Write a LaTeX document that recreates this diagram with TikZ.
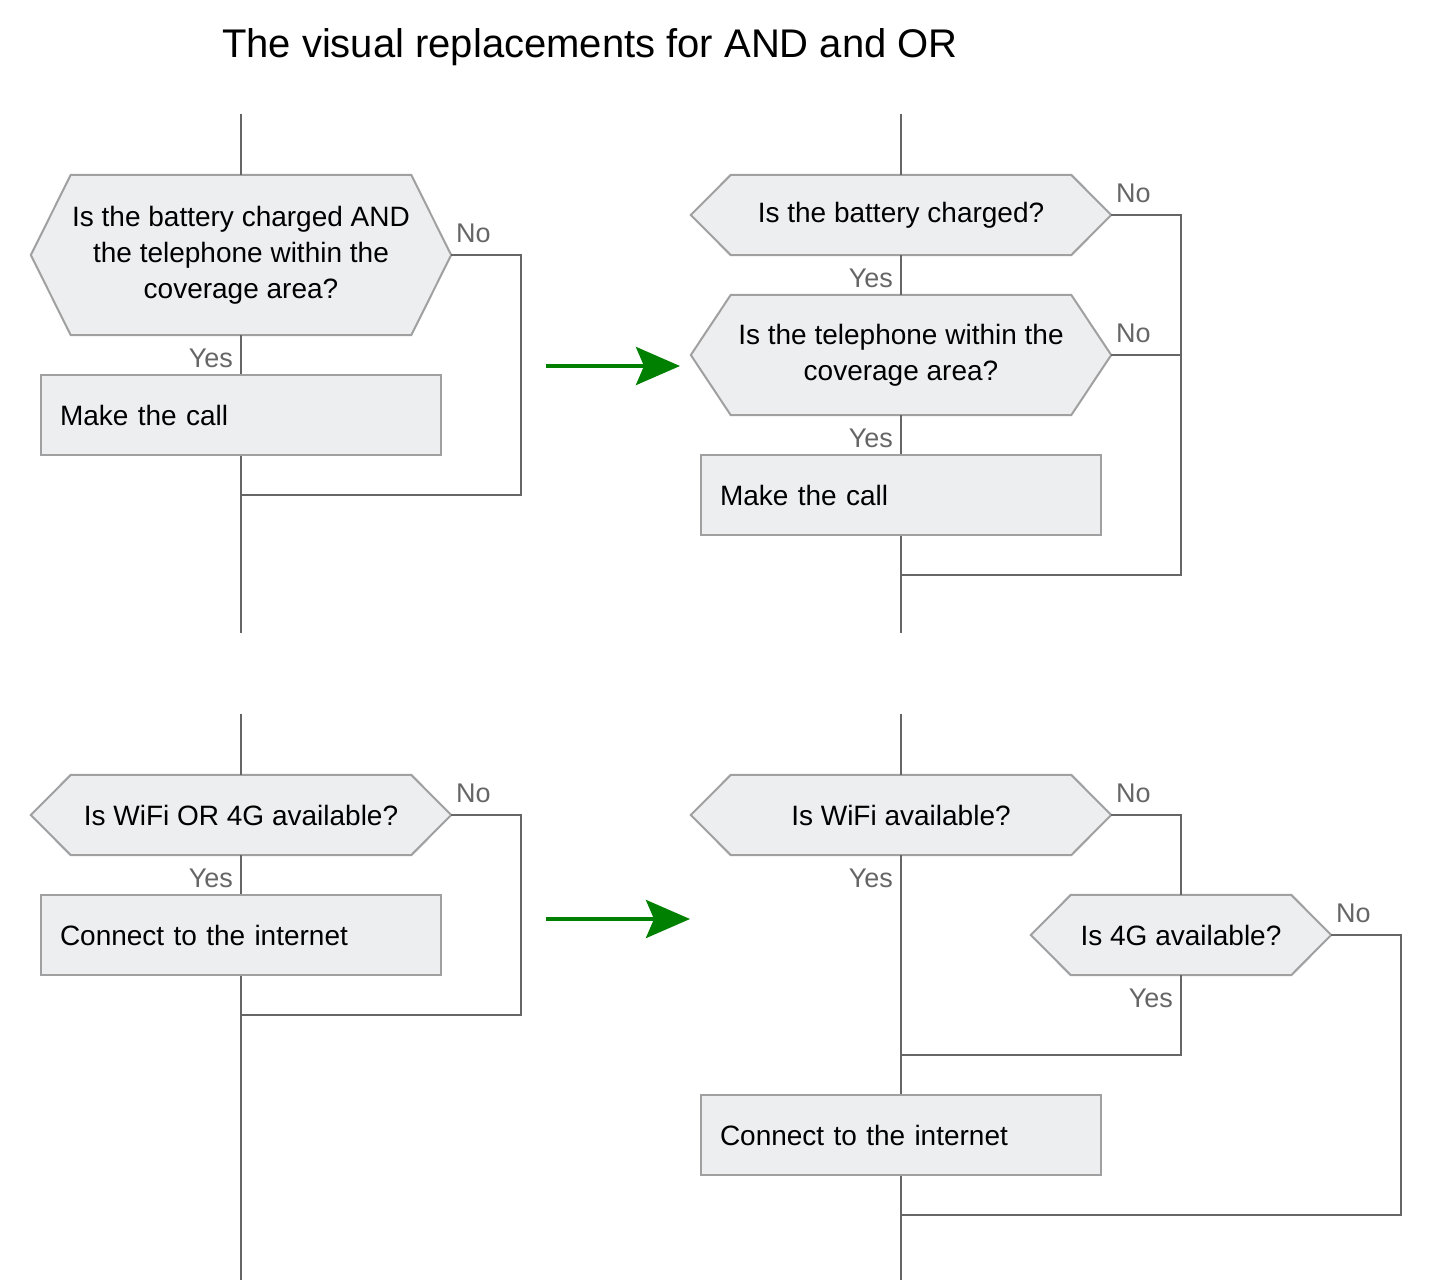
\documentclass[tikz,border=0pt]{standalone}
\usepackage{fontspec}
\setmainfont{Liberation Sans}
\usetikzlibrary{arrows.meta}
\definecolor{shapefill}{RGB}{237,238,240}
\definecolor{shapeline}{RGB}{160,160,160}
\definecolor{connline}{RGB}{102,102,102}
\definecolor{labelgray}{RGB}{102,102,102}
\definecolor{arrowgreen}{RGB}{0,128,0}
\pgfdeclarelayer{background}
\pgfsetlayers{background,main}
\tikzset{
  bodyfont/.style={font=\fontsize{28}{36}\selectfont},
  decision/.style={bodyfont, align=center, inner sep=0pt, text=black},
  procbox/.style={bodyfont, draw=shapeline, fill=shapefill, line width=2pt,
    minimum width=400pt, minimum height=80pt, text width=362pt, inner xsep=19pt,
    inner ysep=0pt, align=left, text=black},
  hexshape/.style={draw=shapeline, fill=shapefill, line width=2pt, line join=miter},
  conn/.style={draw=connline, line width=2pt},
  lbl/.style={font=\fontsize{27}{32}\selectfont, text=labelgray, inner sep=0pt},
  bigarrow/.style={draw=arrowgreen, line width=4pt,
    -{Stealth[length=44pt, width=38pt, inset=8pt, fill=arrowgreen]}},
}
\newcommand{\hexpath}[1]{%
  \path[hexshape] (#1.west) -- ([xshift=40pt]#1.north west) -- ([xshift=-40pt]#1.north east)
    -- (#1.east) -- ([xshift=-40pt]#1.south east) -- ([xshift=40pt]#1.south west) -- cycle;}
\begin{document}
\begin{tikzpicture}[x=1pt, y=-1pt]
\useasboundingbox (0,0) rectangle (1440,1280);

% title
\node[font=\fontsize{40}{48}\selectfont, inner sep=0pt] (title) at (590,47) {The visual replacements for AND and OR};

% ---------- top left ----------
\node[decision, minimum width=420pt, minimum height=160pt] (d1) at (241,255)
  {Is the battery charged AND\\the telephone within the\\coverage area?};
\node[procbox] (p1) at (241,415) {Make the call};
\coordinate (t1) at (241,114);
\coordinate (j1) at (241,495);
\coordinate (b1) at (241,633);
\draw[conn] (t1) -- (d1.north);
\draw[conn] (d1.south) -- (p1.north);
\draw[conn] (p1.south) -- (b1);
\draw[conn] (d1.east) -- ++(70,0) |- (j1);
\node[lbl, anchor=base west] (n1) at (456,242) {No};
\node[lbl, anchor=base east] (y1) at (233,367) {Yes};

% ---------- top right ----------
\node[decision, minimum width=420pt, minimum height=80pt] (d2) at (901,215)
  {Is the battery charged?};
\node[decision, minimum width=420pt, minimum height=120pt] (d3) at (901,355)
  {Is the telephone within the\\coverage area?};
\node[procbox] (p2) at (901,495) {Make the call};
\coordinate (t2) at (901,114);
\coordinate (j2) at (901,575);
\coordinate (b2) at (901,633);
\draw[conn] (t2) -- (d2.north);
\draw[conn] (d2.south) -- (d3.north);
\draw[conn] (d3.south) -- (p2.north);
\draw[conn] (p2.south) -- (b2);
\draw[conn] (d2.east) -- ++(70,0) |- (j2);
\draw[conn] (d3.east) -- ++(70,0);
\node[lbl, anchor=base west] (n2) at (1116,202) {No};
\node[lbl, anchor=base west] (n3) at (1116,342) {No};
\node[lbl, anchor=base east] (y2) at (893,287) {Yes};
\node[lbl, anchor=base east] (y3) at (893,447) {Yes};

% ---------- green arrows ----------
\coordinate (a1s) at (546,366);
\coordinate (a1e) at (680,366);
\coordinate (a2s) at (546,919);
\coordinate (a2e) at (690,919);
\draw[bigarrow] (a1s) -- (a1e);
\draw[bigarrow] (a2s) -- (a2e);

% ---------- bottom left ----------
\node[decision, minimum width=420pt, minimum height=80pt] (d4) at (241,815)
  {Is WiFi OR 4G available?};
\node[procbox] (p3) at (241,935) {Connect to the internet};
\coordinate (t3) at (241,714);
\coordinate (j3) at (241,1015);
\coordinate (b3) at (241,1280);
\draw[conn] (t3) -- (d4.north);
\draw[conn] (d4.south) -- (p3.north);
\draw[conn] (p3.south) -- (b3);
\draw[conn] (d4.east) -- ++(70,0) |- (j3);
\node[lbl, anchor=base west] (n4) at (456,802) {No};
\node[lbl, anchor=base east] (y4) at (233,887) {Yes};

% ---------- bottom right ----------
\node[decision, minimum width=420pt, minimum height=80pt] (d5) at (901,815)
  {Is WiFi available?};
\node[decision, minimum width=300pt, minimum height=80pt] (d6) at (1181,935)
  {Is 4G available?};
\node[procbox] (p4) at (901,1135) {Connect to the internet};
\coordinate (t4) at (901,714);
\coordinate (j4) at (901,1055);
\coordinate (j5) at (901,1215);
\coordinate (b4) at (901,1280);
\draw[conn] (t4) -- (d5.north);
\draw[conn] (d5.south) -- (p4.north);
\draw[conn] (p4.south) -- (b4);
\draw[conn] (d5.east) -| (d6.north);
\draw[conn] (d6.south) |- (j4);
\draw[conn] (d6.east) -- ++(70,0) |- (j5);
\node[lbl, anchor=base west] (n5) at (1116,802) {No};
\node[lbl, anchor=base west] (n6) at (1336,922) {No};
\node[lbl, anchor=base east] (y5) at (893,887) {Yes};
\node[lbl, anchor=base east] (y6) at (1173,1007) {Yes};

% hexagon outlines behind text
\begin{pgfonlayer}{background}
\hexpath{d1}
\hexpath{d2}
\hexpath{d3}
\hexpath{d4}
\hexpath{d5}
\hexpath{d6}
\end{pgfonlayer}
\end{tikzpicture}
\end{document}
